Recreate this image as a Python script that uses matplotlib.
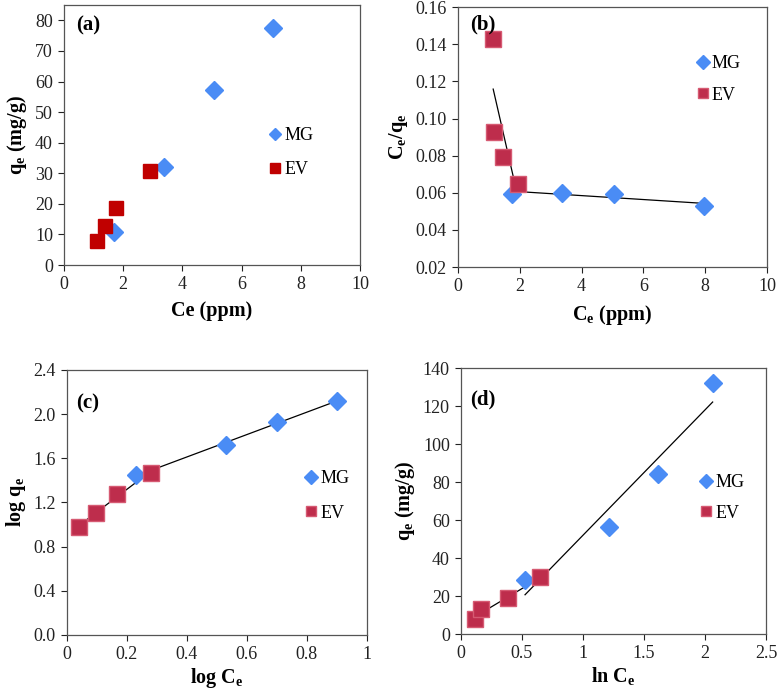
import numpy as np
import matplotlib
matplotlib.use("Agg")
import matplotlib.pyplot as plt

plt.rcParams['font.family'] = 'Liberation Serif'
plt.rcParams['mathtext.fontset'] = 'custom'
plt.rcParams['mathtext.rm'] = 'Liberation Serif'
plt.rcParams['mathtext.it'] = 'Liberation Serif:italic'
plt.rcParams['mathtext.bf'] = 'Liberation Serif:bold'

# (a) qe vs Ce
a_mg_x = [1.7, 3.39, 5.07, 7.06]
a_mg_y = [10.9, 32.0, 57.1, 77.5]
a_ev_x = [1.13, 1.38, 1.77, 2.92]
a_ev_y = [7.9, 12.8, 18.7, 30.8]

# (b) Langmuir: Ce/qe vs Ce
b_mg_x = [1.74, 3.38, 5.05, 7.97]
b_mg_y = [0.0593, 0.0600, 0.0593, 0.0530]
b_ev_x = [1.14, 1.17, 1.47, 1.93]
b_ev_y = [0.1431, 0.0929, 0.0794, 0.0645]

# (c) Freundlich: log qe vs log Ce
c_mg_x = [0.229, 0.530, 0.699, 0.899]
c_mg_y = [1.449, 1.721, 1.926, 2.122]
c_ev_x = [0.040, 0.098, 0.166, 0.279]
c_ev_y = [0.981, 1.108, 1.274, 1.470]

# (d) Temkin: qe vs ln Ce
d_mg_x = [0.525, 1.213, 1.612, 2.063]
d_mg_y = [28.4, 56.5, 84.0, 132.3]
d_ev_x = [0.115, 0.164, 0.383, 0.650]
d_ev_y = [7.7, 13.0, 18.8, 29.8]

blue = '#4a8cf5'
red_a = '#c00000'
red = '#be2d4c'

fig = plt.figure(figsize=(7.77, 6.93), dpi=100)
ax_a = fig.add_axes([0.0824, 0.6176, 0.381, 0.375])
ax_b = fig.add_axes([0.5894, 0.6147, 0.3977, 0.375])
ax_c = fig.add_axes([0.0862, 0.0837, 0.386, 0.3824])
ax_d = fig.add_axes([0.5933, 0.0851, 0.3925, 0.3838])


def style(ax, xticks, xlabels, yticks, ylabels, xlim, ylim):
    ax.set_xlim(*xlim)
    ax.set_ylim(*ylim)
    ax.set_xticks(xticks)
    ax.set_xticklabels(xlabels)
    ax.set_yticks(yticks)
    ax.set_yticklabels(ylabels)
    ax.tick_params(direction='out', length=4, width=0.8, labelsize=13,
                   colors='#222222', pad=4, top=False, right=False)
    for s in ax.spines.values():
        s.set_color('#555555')
        s.set_linewidth(0.9)


def fit_line(ax, x, y):
    k, b = np.polyfit(x, y, 1)
    xs = np.array([min(x), max(x)])
    ax.plot(xs, k * xs + b, color='black', lw=0.9, zorder=1)


def scatter(ax, mgx, mgy, evx, evy, evc, ms_d=9, ms_s=10, edge=None):
    ax.plot(mgx, mgy, 'D', color=blue, ms=ms_d, mec=blue, label='MG', zorder=3)
    ax.plot(evx, evy, 's', color=evc, ms=ms_s, mec=edge or evc, mew=1,
            label='EV', zorder=3)


def legend(ax, anchor, spacing):
    ax.legend(loc='upper left', bbox_to_anchor=anchor, frameon=False,
              fontsize=13, markerscale=0.7, handlelength=0.6,
              handletextpad=0.2, labelspacing=spacing, borderpad=0)


lab = dict(fontsize=14.5, fontweight='bold')
panel = dict(fontsize=15, fontweight='bold', va='top', ha='left')

# (a)
scatter(ax_a, a_mg_x, a_mg_y, a_ev_x, a_ev_y, red_a, ms_d=9, ms_s=10.5)
style(ax_a, [0, 2, 4, 6, 8, 10], ['0', '2', '4', '6', '8', '10'],
      list(range(0, 90, 10)), [str(v) for v in range(0, 90, 10)],
      (0, 10), (0, 85))
ax_a.set_xlabel('Ce (ppm)', labelpad=6, **lab)
ax_a.set_ylabel(r'q$_\mathbf{e}$ (mg/g)', labelpad=4, **lab)
ax_a.text(0.04, 0.96, '(a)', transform=ax_a.transAxes, **panel)
legend(ax_a, (0.665, 0.565), 0.95)

# (b)
scatter(ax_b, b_mg_x, b_mg_y, b_ev_x, b_ev_y, red, ms_d=9.5, ms_s=11,
        edge='#d65a72')
fit_line(ax_b, b_ev_x, b_ev_y)
fit_line(ax_b, b_mg_x, b_mg_y)
byt = [0.02, 0.04, 0.06, 0.08, 0.10, 0.12, 0.14, 0.16]
style(ax_b, [0, 2, 4, 6, 8, 10], ['0', '2', '4', '6', '8', '10'],
      byt, ['%.2f' % v for v in byt], (0, 10), (0.02, 0.16))
ax_b.set_xlabel(r'C$_\mathbf{e}$ (ppm)', labelpad=6, **lab)
ax_b.set_ylabel(r'C$_\mathbf{e}$/q$_\mathbf{e}$', labelpad=4, **lab)
ax_b.text(0.04, 0.97, '(b)', transform=ax_b.transAxes, **panel)
legend(ax_b, (0.745, 0.85), 0.8)

# (c)
scatter(ax_c, c_mg_x, c_mg_y, c_ev_x, c_ev_y, red, ms_d=9.5, ms_s=11,
        edge='#d65a72')
fit_line(ax_c, c_ev_x, c_ev_y)
fit_line(ax_c, c_mg_x, c_mg_y)
cyt = [0.0, 0.4, 0.8, 1.2, 1.6, 2.0, 2.4]
style(ax_c, [0, 0.2, 0.4, 0.6, 0.8, 1.0], ['0', '0.2', '0.4', '0.6', '0.8', '1'],
      cyt, ['%.1f' % v for v in cyt], (0, 1), (0, 2.4))
ax_c.set_xlabel(r'log C$_\mathbf{e}$', labelpad=2, **lab)
ax_c.set_ylabel(r'log q$_\mathbf{e}$', labelpad=4, **lab)
ax_c.text(0.03, 0.91, '(c)', transform=ax_c.transAxes, **panel)
legend(ax_c, (0.767, 0.655), 0.95)

# (d)
scatter(ax_d, d_mg_x, d_mg_y, d_ev_x, d_ev_y, red, ms_d=9.5, ms_s=11,
        edge='#d65a72')
fit_line(ax_d, d_ev_x, d_ev_y)
fit_line(ax_d, d_mg_x, d_mg_y)
dyt = list(range(0, 160, 20))
style(ax_d, [0, 0.5, 1, 1.5, 2, 2.5], ['0', '0.5', '1', '1.5', '2', '2.5'],
      dyt, [str(v) for v in dyt], (0, 2.5), (0, 140))
ax_d.set_xlabel(r'ln C$_\mathbf{e}$', labelpad=2, **lab)
ax_d.set_ylabel(r'q$_\mathbf{e}$ (mg/g)', labelpad=4, **lab)
ax_d.text(0.03, 0.92, '(d)', transform=ax_d.transAxes, **panel)
legend(ax_d, (0.757, 0.635), 0.75)

fig.savefig('out.png', dpi=100)
